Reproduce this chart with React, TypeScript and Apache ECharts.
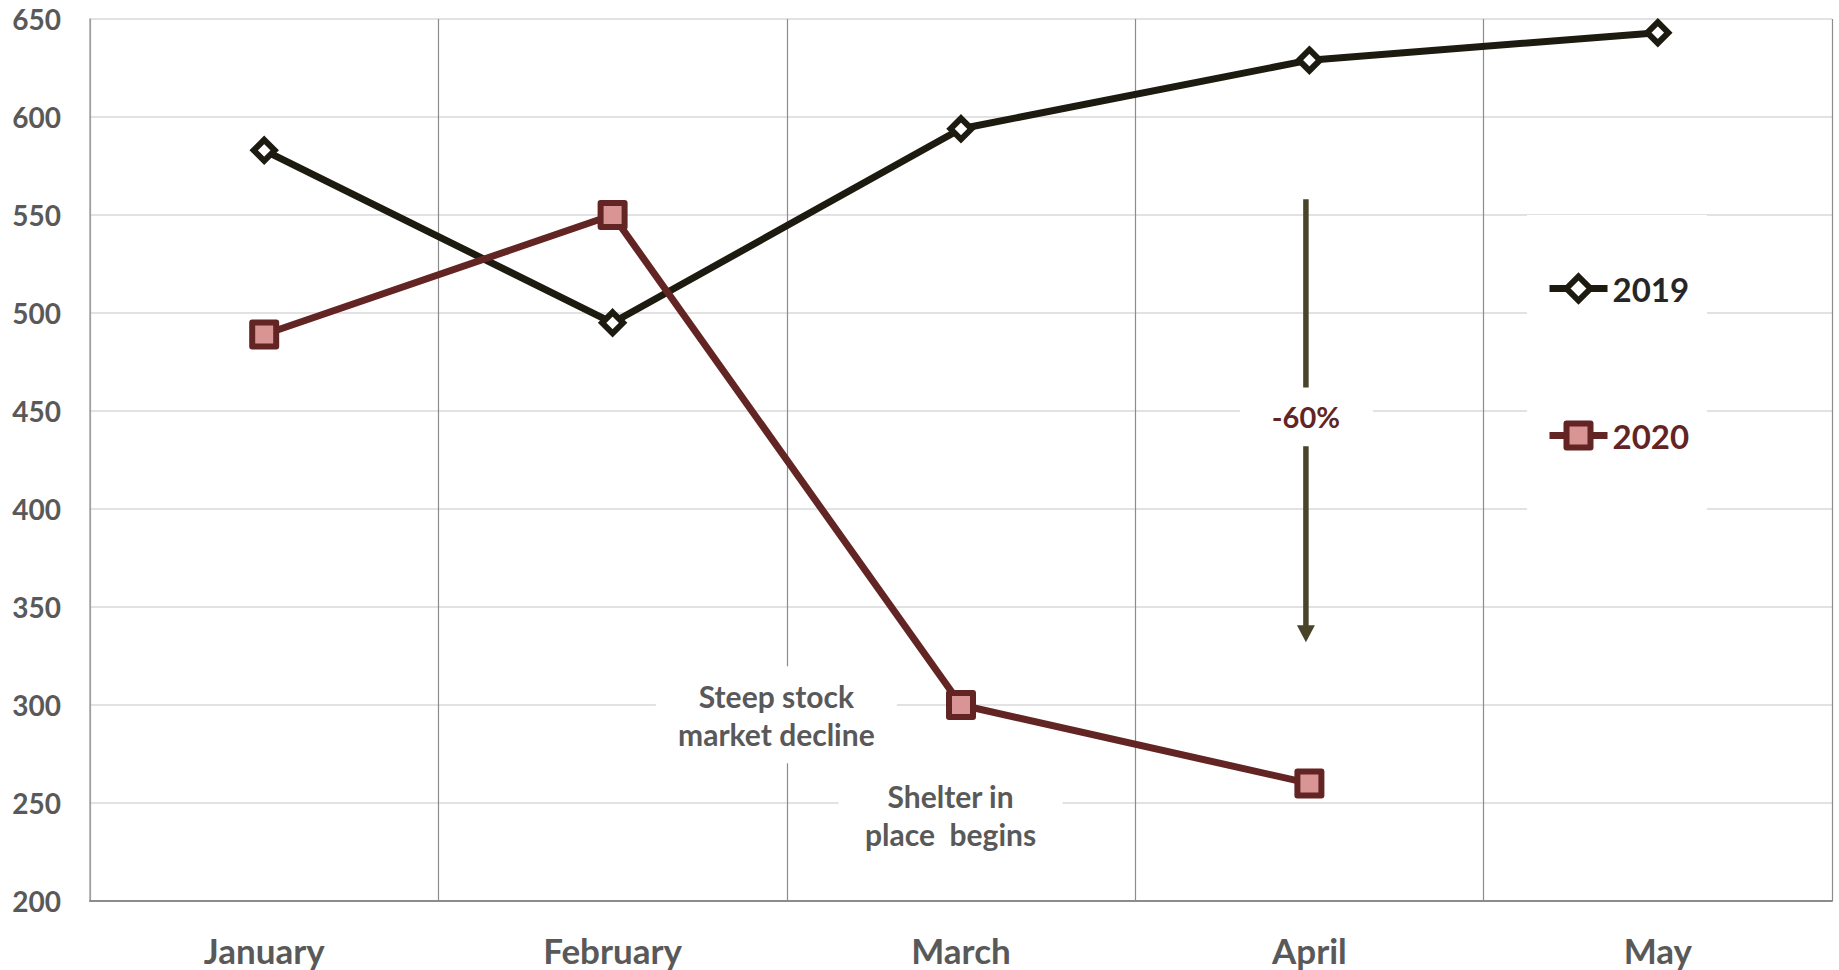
import React, { useEffect, useRef } from "react";
import * as echarts from "echarts";

// Monthly values for the two years
const months = ["January", "February", "March", "April", "May"];
const values2019 = [583, 495, 594, 629, 643];
const values2020 = [489, 550, 300, 260];

// Value axis range
const yMin = 200;
const yMax = 650;
const yStep = 50;

// Callouts: position along the category axis (fractional index) and value
const stockNote = { lines: ["Steep stock", "market decline"], at: 1.47, value: 295 };
const shelterNote = { lines: ["Shelter in", "place  begins"], at: 1.97, value: 244 };
const dropArrow = { label: "-60%", at: 2.99, from: 558, to: 332, gapTop: 462, gapBottom: 432, labelValue: 447 };

const DARK = "#1d1b10";
const MAROON = "#632523";
const PINK = "#d99594";
const GREY_TEXT = "#595959";
const ARROW = "#494429";
const FONT = "Lato, 'Open Sans', sans-serif";

export default function App() {
  const ref = useRef<HTMLDivElement>(null);

  useEffect(() => {
    if (!ref.current) return;
    const chart = echarts.init(ref.current, undefined, { renderer: "svg" });

    chart.setOption({
      animation: false,
      backgroundColor: "#ffffff",
      textStyle: { fontFamily: FONT },
      grid: { left: 90, right: 7, top: 19, bottom: 69 },
      legend: {
        orient: "vertical",
        left: 1527,
        top: 215,
        backgroundColor: "#ffffff",
        padding: [57, 18, 64, 19],
        itemWidth: 58,
        itemHeight: 30,
        itemGap: 114,
        lineStyle: { width: 7 },
        textStyle: { fontSize: 33, fontWeight: "bold", fontFamily: FONT },
        data: [
          { name: "2019", textStyle: { color: "#262626" }, itemStyle: { borderWidth: 6 } },
          { name: "2020", textStyle: { color: MAROON }, itemStyle: { borderWidth: 6 } },
        ],
      },
      xAxis: {
        type: "category",
        data: months,
        boundaryGap: true,
        axisTick: { show: false },
        axisLine: { lineStyle: { color: "#8c8c8c", width: 2 } },
        splitLine: { show: true, lineStyle: { color: "#8c8c8c", width: 1.2 } },
        axisLabel: {
          color: GREY_TEXT,
          fontSize: 35,
          fontWeight: "bold",
          fontFamily: FONT,
          margin: 31,
        },
      },
      yAxis: {
        type: "value",
        min: yMin,
        max: yMax,
        interval: yStep,
        axisLine: { show: true, lineStyle: { color: "#a6a6a6", width: 1.5 } },
        axisTick: { show: false },
        splitLine: { lineStyle: { color: "#d9d9d9", width: 1.5 } },
        axisLabel: {
          color: GREY_TEXT,
          fontSize: 28,
          fontWeight: "bold",
          fontFamily: FONT,
          margin: 29,
        },
      },
      series: [
        {
          name: "2019",
          type: "line",
          data: values2019,
          symbol: "diamond",
          symbolSize: 21,
          showAllSymbol: true,
          lineStyle: { color: DARK, width: 7 },
          itemStyle: { color: "#ffffff", borderColor: DARK, borderWidth: 6 },
          emphasis: { disabled: true },
        },
        {
          name: "2020",
          type: "line",
          data: values2020,
          symbol: "rect",
          symbolSize: 24,
          showAllSymbol: true,
          lineStyle: { color: MAROON, width: 7 },
          itemStyle: { color: PINK, borderColor: MAROON, borderWidth: 6, borderJoin: "round" },
          emphasis: { disabled: true },
        },
      ],
    });

    // Pixel position for a fractional category index and a value
    const px = (pos: number, value: number): number[] => {
      const i = Math.floor(pos);
      const f = pos - i;
      const j = Math.min(i + 1, months.length - 1);
      const a = chart.convertToPixel({ gridIndex: 0 }, [i, value]) as number[];
      const b = chart.convertToPixel({ gridIndex: 0 }, [j, value]) as number[];
      return [a[0] + (b[0] - a[0]) * f, a[1]];
    };

    const noteText = (lines: string[], size: number, color: string) => ({
      text: lines.join("\n"),
      fill: color,
      fontSize: size,
      fontWeight: "bold",
      fontFamily: FONT,
      lineHeight: 38,
      align: "center",
      verticalAlign: "middle",
    });

    const note = (n: { lines: string[]; at: number; value: number }, w: number, h: number) => {
      const [x, y] = px(n.at, n.value);
      return {
        type: "group",
        x,
        y,
        z: 10,
        children: [
          { type: "rect", shape: { x: -w / 2, y: -h / 2, width: w, height: h }, style: { fill: "#ffffff" } },
          { type: "text", x: 0, y: 0, style: noteText(n.lines, 30, GREY_TEXT) },
        ],
      };
    };

    const [ax, yFrom] = px(dropArrow.at, dropArrow.from);
    const yGapTop = px(dropArrow.at, dropArrow.gapTop)[1];
    const yGapBottom = px(dropArrow.at, dropArrow.gapBottom)[1];
    const yTip = px(dropArrow.at, dropArrow.to)[1];
    const yLabel = px(dropArrow.at, dropArrow.labelValue)[1];
    const head = 17;

    chart.setOption({
      graphic: [
        note(stockNote, 241, 97),
        note(shelterNote, 224, 97),
        {
          type: "rect",
          z: 10,
          shape: { x: ax - 66, y: yLabel - 30, width: 133, height: 60 },
          style: { fill: "#ffffff" },
        },
        {
          type: "line",
          z: 11,
          shape: { x1: ax, y1: yFrom, x2: ax, y2: yGapTop },
          style: { stroke: ARROW, lineWidth: 5.5 },
        },
        {
          type: "line",
          z: 11,
          shape: { x1: ax, y1: yGapBottom, x2: ax, y2: yTip - head + 1 },
          style: { stroke: ARROW, lineWidth: 5.5 },
        },
        {
          type: "polygon",
          z: 11,
          shape: { points: [[ax - 9, yTip - head], [ax + 9, yTip - head], [ax, yTip]] },
          style: { fill: ARROW },
        },
        {
          type: "text",
          z: 11,
          x: ax,
          y: yLabel,
          style: noteText([dropArrow.label], 29, MAROON),
        },
      ],
    });

    return () => chart.dispose();
  }, []);

  return (
    <div
      ref={ref}
      style={{ position: "absolute", left: 0, top: 0, width: 1839, height: 970 }}
    />
  );
}
